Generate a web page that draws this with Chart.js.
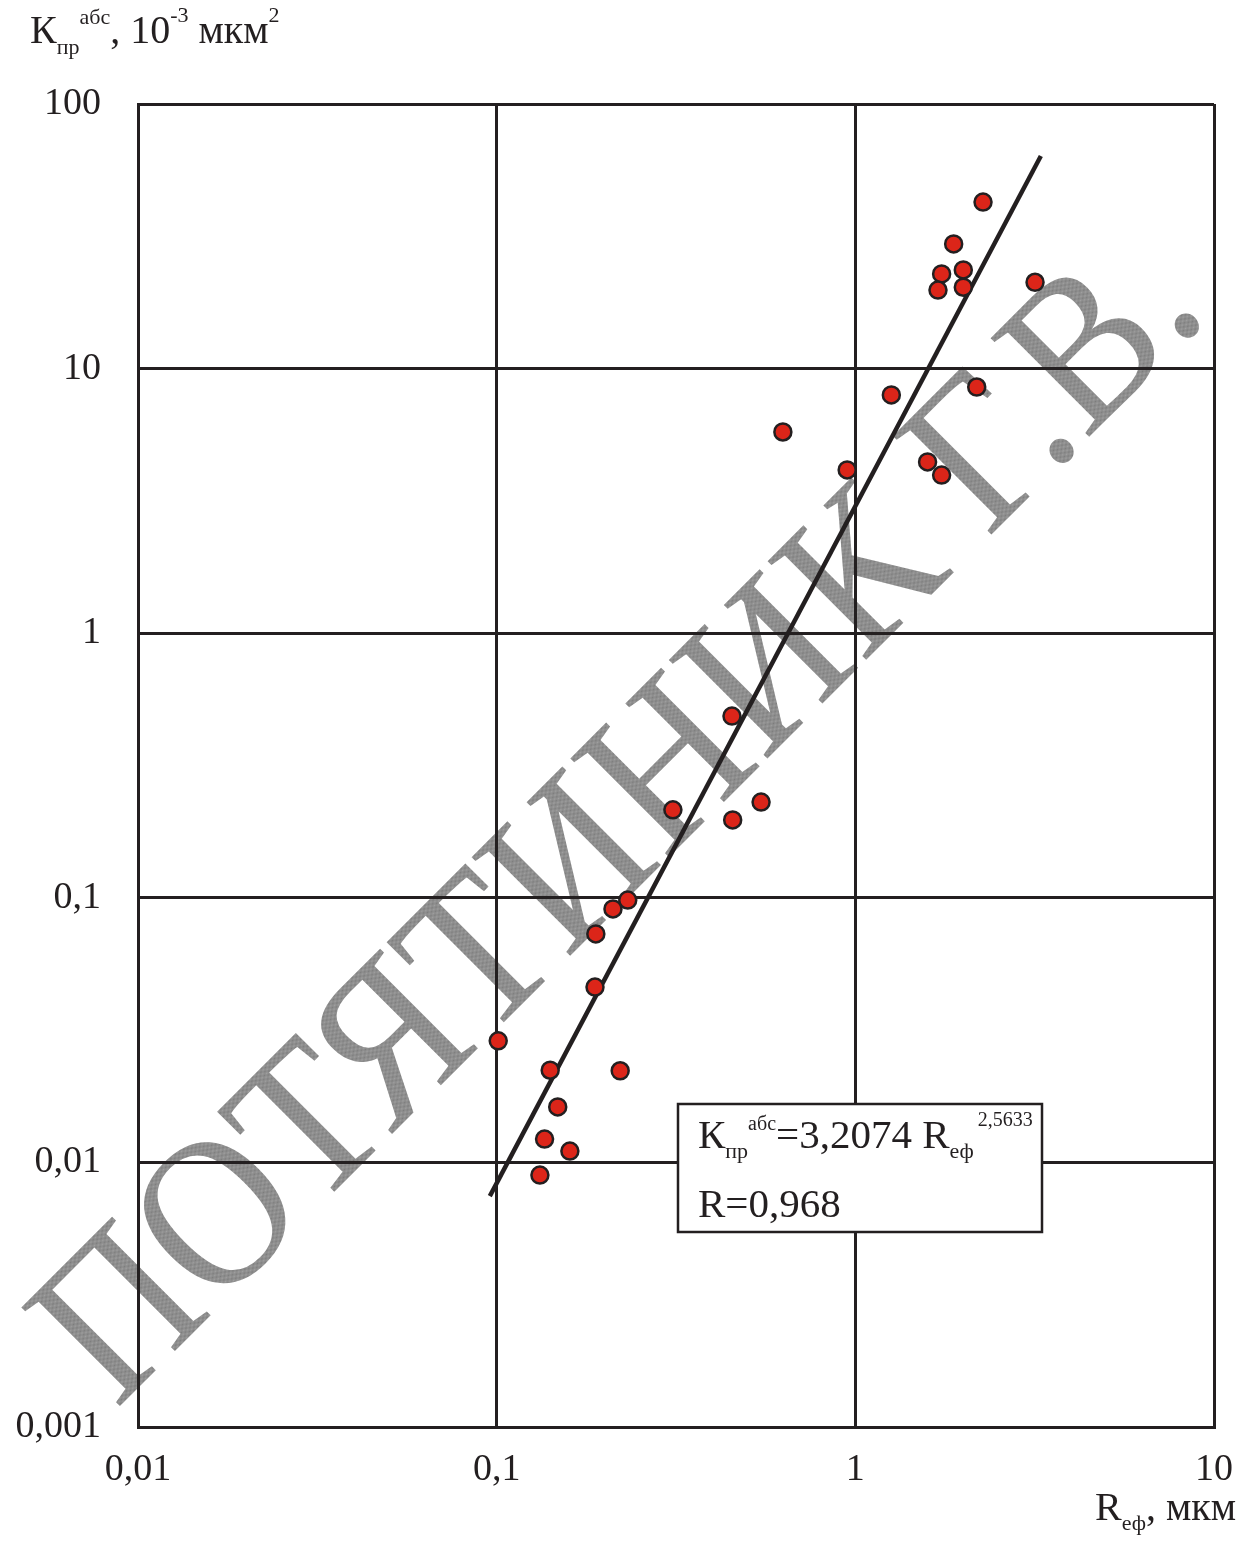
<!DOCTYPE html>
<html><head><meta charset="utf-8">
<script src="https://cdn.jsdelivr.net/npm/chart.js@4/dist/chart.umd.min.js"></script>
<style>html,body{margin:0;padding:0;background:#fff;}#wrap{width:1256px;height:1544px;}</style>
</head><body><div id="wrap"><canvas id="c" width="1256" height="1544"></canvas></div>
<script>
// ---- data ----
const rEf  = [2.27, 1.88, 1.74, 2.00, 1.70, 2.00, 3.17, 2.18, 1.26, 0.628, 0.949, 1.59, 1.74,
              0.453, 0.310, 0.546, 0.455, 0.232, 0.211, 0.189, 0.188, 0.101, 0.141, 0.221,
              0.148, 0.136, 0.160, 0.132];
const kAbs = [42.6, 29.6, 22.8, 23.6, 19.8, 20.3, 21.2, 8.52, 7.95, 5.76, 4.14, 4.44, 3.96,
              0.486, 0.215, 0.230, 0.197, 0.098, 0.0908, 0.073, 0.046, 0.0288, 0.0223, 0.0222,
              0.0162, 0.01225, 0.01104, 0.00896];
const fitR = [0.0957, 3.29];
const fitK = [0.00746, 63.6];
const xTicks = [0.01, 0.1, 1, 10];
const xTickLabels = ['0,01', '0,1', '1', '10'];
const yTicks = [0.001, 0.01, 0.1, 1, 10, 100];
const yTickLabels = ['0,001', '0,01', '0,1', '1', '10', '100'];
const eqCoef = '3,2074';
const eqExp = '2,5633';
const corrR = '0,968';
const watermarkText = 'ПОТЯТИНИК Г.В.';

// ---- styling ----
const FF = '"Liberation Serif", "Times New Roman", serif';
const INK = '#231f20';
Chart.defaults.font.family = FF;
Chart.defaults.color = INK;

function drawRich(ctx, x, y, segs) {
  let cx = x;
  for (const s of segs) {
    ctx.font = s.s + 'px ' + FF;
    ctx.fillText(s.t, cx, y + (s.dy || 0));
    cx += ctx.measureText(s.t).width + (s.gap || 0);
  }
  return cx - x;
}
function richWidth(ctx, segs) {
  let w = 0;
  for (const s of segs) { ctx.font = s.s + 'px ' + FF; w += ctx.measureText(s.t).width + (s.gap || 0); }
  return w;
}

const watermark = {
  id: 'watermark',
  beforeDraw(chart) {
    const ctx = chart.ctx;
    const pc = document.createElement('canvas');
    pc.width = 2; pc.height = 2;
    const p = pc.getContext('2d');
    p.fillStyle = '#a0a0a0'; p.fillRect(0, 0, 2, 2);
    p.fillStyle = '#7c7c7c'; p.fillRect(0, 0, 1, 1); p.fillRect(1, 1, 1, 1);
    ctx.save();
    ctx.translate(116, 1410);
    ctx.rotate(-Math.PI / 4);
    ctx.font = '213px ' + FF;
    const w = ctx.measureText(watermarkText).width;
    ctx.scale(1548 / w, 1);
    ctx.fillStyle = ctx.createPattern(pc, 'repeat');
    ctx.textBaseline = 'alphabetic';
    ctx.fillText(watermarkText, 0, 0);
    ctx.restore();
  }
};

const decor = {
  id: 'decor',
  afterDraw(chart) {
    const ctx = chart.ctx;
    ctx.save();
    ctx.fillStyle = INK;
    ctx.textBaseline = 'alphabetic';
    ctx.textAlign = 'left';
    // y-axis title
    drawRich(ctx, 30, 43, [
      {t: 'К', s: 40}, {t: 'пр', s: 22, dy: 11}, {t: 'абс', s: 22, dy: -19},
      {t: ', 10', s: 40}, {t: '-3', s: 22, dy: -21}, {t: ' мкм', s: 40}, {t: '2', s: 22, dy: -21}
    ]);
    // x-axis title
    const xt = [{t: 'R', s: 40}, {t: 'еф', s: 22, dy: 10}, {t: ', мкм', s: 40}];
    drawRich(ctx, 1236 - richWidth(ctx, xt), 1520, xt);
    // equation box
    ctx.fillStyle = '#fff';
    ctx.fillRect(678, 1104, 364, 128);
    ctx.strokeStyle = INK;
    ctx.lineWidth = 2.5;
    ctx.strokeRect(678, 1104, 364, 128);
    ctx.fillStyle = INK;
    drawRich(ctx, 698, 1148, [
      {t: 'К', s: 41}, {t: 'пр', s: 22, dy: 10}, {t: 'абс', s: 20, dy: -18},
      {t: '=' + eqCoef + ' R', s: 41}, {t: 'еф', s: 22, dy: 10, gap: 4}, {t: eqExp, s: 20, dy: -22}
    ]);
    drawRich(ctx, 698, 1217, [{t: 'R=' + corrR, s: 41}]);
    ctx.restore();
  }
};

new Chart(document.getElementById('c'), {
  data: {
    datasets: [
      {
        type: 'scatter',
        label: 'fit',
        data: fitR.map((x, i) => ({x, y: fitK[i]})),
        showLine: true,
        borderColor: INK,
        borderWidth: 4.5,
        pointRadius: 0,
        order: 2
      },
      {
        type: 'scatter',
        label: 'data',
        data: rEf.map((x, i) => ({x, y: kAbs[i]})),
        backgroundColor: '#dc2519',
        borderColor: INK,
        borderWidth: 2.5,
        pointRadius: 8.5,
        order: 1
      }
    ]
  },
  options: {
    responsive: false,
    devicePixelRatio: 1,
    animation: false,
    layout: {padding: {left: 0, top: 104, right: 42, bottom: 0}},
    plugins: {legend: {display: false}, tooltip: {enabled: false}},
    scales: {
      x: {
        type: 'logarithmic', min: 0.01, max: 10, position: 'bottom',
        afterBuildTicks: s => { s.ticks = xTicks.map(v => ({value: v})); },
        afterFit: s => { s.height = 117; },
        grid: {color: INK, lineWidth: 3, drawTicks: false},
        border: {color: INK, width: 3},
        ticks: {
          autoSkip: false, maxRotation: 0, padding: 20,
          font: {size: 38, family: FF}, color: INK,
          callback: (v) => { const i = xTicks.indexOf(v); return i >= 0 ? xTickLabels[i] : ''; }
        }
      },
      y: {
        type: 'logarithmic', min: 0.001, max: 100, position: 'left',
        afterBuildTicks: s => { s.ticks = yTicks.map(v => ({value: v})); },
        afterFit: s => { s.width = 138; },
        grid: {color: INK, lineWidth: 3, drawTicks: false},
        border: {color: INK, width: 3},
        ticks: {
          autoSkip: false, padding: 37,
          font: {size: 38, family: FF}, color: INK,
          callback: (v) => { const i = yTicks.indexOf(v); return i >= 0 ? yTickLabels[i] : ''; }
        }
      }
    }
  },
  plugins: [watermark, decor]
});
</script>
</body></html>
